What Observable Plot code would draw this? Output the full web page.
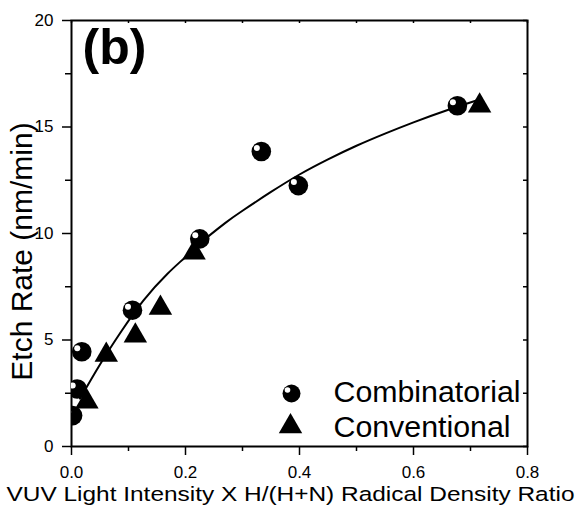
<!DOCTYPE html>
<html><head><meta charset="utf-8">
<script src="https://cdn.jsdelivr.net/npm/d3@7"></script>
<script src="https://cdn.jsdelivr.net/npm/@observablehq/plot@0.6"></script>
<style>body{margin:0;background:#fff} svg{font-family:"Liberation Sans",Arial,sans-serif}</style>
</head><body><div id="chart"></div>
<script>
// Combinatorial (sphere markers)
const combX = [0.002, 0.010, 0.018, 0.107, 0.225, 0.333, 0.398, 0.677];
const combY = [1.45, 2.7, 4.45, 6.4, 9.75, 13.85, 12.25, 16.0];
// Conventional (triangles)
const convX = [0.027, 0.061, 0.112, 0.156, 0.215, 0.716];
const convY = [2.1, 4.3, 5.2, 6.5, 9.1, 16.0];
// fitted curve
const fitX = [0.015, 0.05, 0.086, 0.126, 0.168, 0.2, 0.226, 0.27, 0.3, 0.35, 0.4, 0.45, 0.5, 0.55, 0.6, 0.66, 0.72];
const fitY = [2.25, 3.85, 5.35, 6.85, 8.1, 8.9, 9.55, 10.5, 11.07, 11.95, 12.77, 13.48, 14.12, 14.69, 15.22, 15.8, 16.33];
// ticks and labels
const xMajor = [0, 0.2, 0.4, 0.6, 0.8];
const xMinor = [0.1, 0.3, 0.5, 0.7];
const yMajor = [0, 5, 10, 15, 20];
const yMinor = [2.5, 7.5, 12.5, 17.5];
const legendLabels = ["Combinatorial", "Conventional"];
const panelLabel = "(b)";
const xTitle = "VUV Light Intensity X H/(H+N) Radical Density Ratio";
const yTitle = "Etch Rate (nm/min)";

const comb = combX.map((x, i) => ({x, y: combY[i]}));
const conv = convX.map((x, i) => ({x, y: convY[i]}));
const fit = fitX.map((x, i) => ({x, y: fitY[i]}));

const W = 577, H = 506, mL = 71, mT = 20, mR = 50, mB = 60;
const fw = W - mL - mR, fh = H - mT - mB;
const font = "Liberation Sans, Arial, sans-serif";

const chart = Plot.plot({
  width: W, height: H,
  marginLeft: mL, marginTop: mT, marginRight: mR, marginBottom: mB,
  style: {fontFamily: font, background: "#fff", color: "#000", overflow: "visible"},
  x: {domain: [0, 0.8], label: null},
  y: {domain: [0, 20], label: null},
  marks: [
    Plot.axisX({ticks: xMajor, tickSize: 9, tickPadding: 10, tickFormat: d3.format(".1f"), fontSize: 17, strokeWidth: 1.5}),
    Plot.axisX({ticks: xMinor, tickSize: 5, tickFormat: () => "", strokeWidth: 1.5}),
    Plot.axisY({ticks: yMajor, tickSize: 9, tickPadding: 9, fontSize: 17, strokeWidth: 1.5}),
    Plot.axisY({ticks: yMinor, tickSize: 6, tickFormat: () => "", strokeWidth: 1.5}),
    Plot.tickY(yMajor.concat(yMinor), {y: d => d, insetLeft: fw - 4, stroke: "black", strokeWidth: 1.5}),
    Plot.tickX(xMajor.concat(xMinor), {x: d => d, insetBottom: fh - 3, stroke: "black", strokeWidth: 1.5}),
    Plot.frame({stroke: "black", strokeWidth: 2}),
    Plot.line(fit, {x: "x", y: "y", curve: "natural", stroke: "black", strokeWidth: 2}),
    Plot.dot(conv, {x: "x", y: "y", symbol: "triangle", r: 8.7, fill: "black", stroke: null, clip: true}),
    Plot.dot(comb, {x: "x", y: "y", r: 9.8, fill: "black", stroke: null, clip: true}),
    Plot.dot(comb, {x: "x", y: "y", r: 3, fill: "white", stroke: null, dx: -4.5, dy: -3.5, clip: true}),
    // legend
    Plot.dot([legendLabels[0]], {frameAnchor: "bottom-left", dx: 220, dy: -53, r: 9, fill: "black", stroke: null}),
    Plot.dot([legendLabels[0]], {frameAnchor: "bottom-left", dx: 216, dy: -56.5, r: 2.8, fill: "white", stroke: null}),
    Plot.dot([legendLabels[1]], {frameAnchor: "bottom-left", dx: 219, dy: -20, symbol: "triangle", r: 8.7, fill: "black", stroke: null}),
    Plot.text([legendLabels[0]], {text: d => d, frameAnchor: "bottom-left", dx: 262, dy: -53.5, textAnchor: "start", fontSize: 29, lineAnchor: "middle"}),
    Plot.text([legendLabels[1]], {text: d => d, frameAnchor: "bottom-left", dx: 262, dy: -18.5, textAnchor: "start", fontSize: 29, lineAnchor: "middle"}),
    // panel label and titles
    Plot.text([panelLabel], {text: d => d, frameAnchor: "top-left", dx: 11, dy: 8, fontSize: 50, fontWeight: "bold", textAnchor: "start", lineAnchor: "top"}),
    Plot.text([yTitle], {text: d => d, frameAnchor: "left", rotate: -90, dx: -49, dy: 18, fontSize: 30, textAnchor: "middle", lineAnchor: "middle"}),
    Plot.text([xTitle], {text: d => d, frameAnchor: "bottom", dx: -9, dy: 48, fontSize: 20.5, textAnchor: "middle", lineAnchor: "middle"})
  ]
});
// stretch the wide texts to the reference's widths
d3.select(chart).selectAll("text")
  .filter(function () { return this.textContent === xTitle; })
  .attr("textLength", 568).attr("lengthAdjust", "spacingAndGlyphs");
d3.select(chart).selectAll("text")
  .filter(function () { return this.textContent === legendLabels[0]; })
  .attr("textLength", 187).attr("lengthAdjust", "spacingAndGlyphs");
d3.select(chart).selectAll("text")
  .filter(function () { return this.textContent === legendLabels[1]; })
  .attr("textLength", 177).attr("lengthAdjust", "spacingAndGlyphs");
document.getElementById("chart").appendChild(chart);
</script>
</body></html>
